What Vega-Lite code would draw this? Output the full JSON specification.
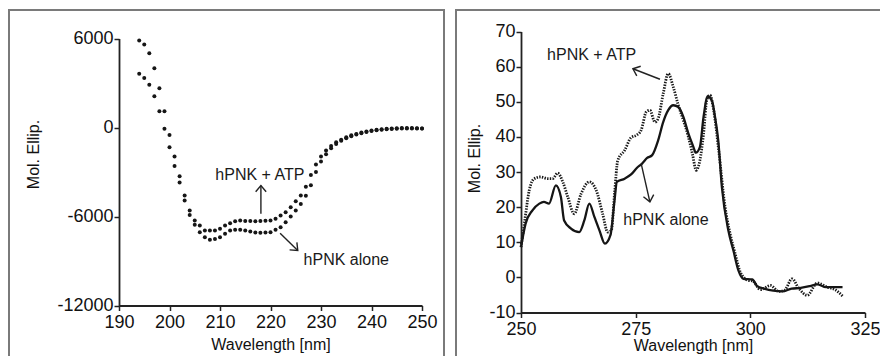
{
  "$schema": "https://vega.github.io/schema/vega-lite/v6.json",
  "background": "white",
  "padding": {"left": 8, "top": 9, "right": 0, "bottom": 0},
  "autosize": {"type": "pad"},
  "bounds": "flush",
  "spacing": 12,
  "config": {
    "view": {"stroke": "#7a7a7a", "strokeWidth": 2},
    "font": "Liberation Sans",
    "axis": {"grid": false, "domainColor": "#222", "domainWidth": 1.8, "tickColor": "#222", "tickWidth": 1.5, "tickSize": 5,
      "labelColor": "#111", "titleColor": "#111", "labelFont": "Liberation Sans", "titleFont": "Liberation Sans",
      "labelFontSize": 18, "titleFontSize": 16, "titleFontWeight": "normal", "labelFlush": false},
    "text": {"font": "Liberation Sans"}
  },
  "datasets": {
    "far": [
      {"s":"hPNK + ATP","nm":194,"v":5870},{"s":"hPNK + ATP","nm":195,"v":5600},{"s":"hPNK + ATP","nm":196,"v":5010},{"s":"hPNK + ATP","nm":197,"v":4000},{"s":"hPNK + ATP","nm":198,"v":2650},{"s":"hPNK + ATP","nm":199,"v":1100},{"s":"hPNK + ATP","nm":200,"v":-500},{"s":"hPNK + ATP","nm":201,"v":-1950},{"s":"hPNK + ATP","nm":202,"v":-3280},{"s":"hPNK + ATP","nm":203,"v":-4580},{"s":"hPNK + ATP","nm":204,"v":-5600},{"s":"hPNK + ATP","nm":205,"v":-6270},{"s":"hPNK + ATP","nm":206,"v":-6600},{"s":"hPNK + ATP","nm":207,"v":-6940},{"s":"hPNK + ATP","nm":208,"v":-6950},{"s":"hPNK + ATP","nm":209,"v":-6940},{"s":"hPNK + ATP","nm":210,"v":-6830},{"s":"hPNK + ATP","nm":211,"v":-6600},{"s":"hPNK + ATP","nm":212,"v":-6450},{"s":"hPNK + ATP","nm":213,"v":-6320},{"s":"hPNK + ATP","nm":214,"v":-6270},{"s":"hPNK + ATP","nm":215,"v":-6300},{"s":"hPNK + ATP","nm":216,"v":-6310},{"s":"hPNK + ATP","nm":217,"v":-6320},{"s":"hPNK + ATP","nm":218,"v":-6310},{"s":"hPNK + ATP","nm":219,"v":-6290},{"s":"hPNK + ATP","nm":220,"v":-6270},{"s":"hPNK + ATP","nm":221,"v":-6160},{"s":"hPNK + ATP","nm":222,"v":-5930},{"s":"hPNK + ATP","nm":223,"v":-5710},{"s":"hPNK + ATP","nm":224,"v":-5370},{"s":"hPNK + ATP","nm":225,"v":-4970},{"s":"hPNK + ATP","nm":226,"v":-4580},{"s":"hPNK + ATP","nm":227,"v":-4000},{"s":"hPNK + ATP","nm":228,"v":-3200},{"s":"hPNK + ATP","nm":229,"v":-2500},{"s":"hPNK + ATP","nm":230,"v":-1950},{"s":"hPNK + ATP","nm":231,"v":-1550},{"s":"hPNK + ATP","nm":232,"v":-1250},{"s":"hPNK + ATP","nm":233,"v":-1000},{"s":"hPNK + ATP","nm":234,"v":-820},{"s":"hPNK + ATP","nm":235,"v":-660},{"s":"hPNK + ATP","nm":236,"v":-530},{"s":"hPNK + ATP","nm":237,"v":-430},{"s":"hPNK + ATP","nm":238,"v":-340},{"s":"hPNK + ATP","nm":239,"v":-270},{"s":"hPNK + ATP","nm":240,"v":-210},{"s":"hPNK + ATP","nm":241,"v":-160},{"s":"hPNK + ATP","nm":242,"v":-120},{"s":"hPNK + ATP","nm":243,"v":-90},{"s":"hPNK + ATP","nm":244,"v":-70},{"s":"hPNK + ATP","nm":245,"v":-50},{"s":"hPNK + ATP","nm":246,"v":-40},{"s":"hPNK + ATP","nm":247,"v":-40},{"s":"hPNK + ATP","nm":248,"v":-40},{"s":"hPNK + ATP","nm":249,"v":-50},{"s":"hPNK + ATP","nm":250,"v":-60},
      {"s":"hPNK alone","nm":194,"v":3620},{"s":"hPNK alone","nm":195,"v":3330},{"s":"hPNK alone","nm":196,"v":2880},{"s":"hPNK alone","nm":197,"v":2110},{"s":"hPNK alone","nm":198,"v":1100},{"s":"hPNK alone","nm":199,"v":-90},{"s":"hPNK alone","nm":200,"v":-1330},{"s":"hPNK alone","nm":201,"v":-2600},{"s":"hPNK alone","nm":202,"v":-3700},{"s":"hPNK alone","nm":203,"v":-4920},{"s":"hPNK alone","nm":204,"v":-5900},{"s":"hPNK alone","nm":205,"v":-6550},{"s":"hPNK alone","nm":206,"v":-7060},{"s":"hPNK alone","nm":207,"v":-7400},{"s":"hPNK alone","nm":208,"v":-7570},{"s":"hPNK alone","nm":209,"v":-7510},{"s":"hPNK alone","nm":210,"v":-7400},{"s":"hPNK alone","nm":211,"v":-7170},{"s":"hPNK alone","nm":212,"v":-6950},{"s":"hPNK alone","nm":213,"v":-6900},{"s":"hPNK alone","nm":214,"v":-6900},{"s":"hPNK alone","nm":215,"v":-6950},{"s":"hPNK alone","nm":216,"v":-7010},{"s":"hPNK alone","nm":217,"v":-7080},{"s":"hPNK alone","nm":218,"v":-7100},{"s":"hPNK alone","nm":219,"v":-7080},{"s":"hPNK alone","nm":220,"v":-7060},{"s":"hPNK alone","nm":221,"v":-6900},{"s":"hPNK alone","nm":222,"v":-6720},{"s":"hPNK alone","nm":223,"v":-6380},{"s":"hPNK alone","nm":224,"v":-6000},{"s":"hPNK alone","nm":225,"v":-5600},{"s":"hPNK alone","nm":226,"v":-5150},{"s":"hPNK alone","nm":227,"v":-4600},{"s":"hPNK alone","nm":228,"v":-3900},{"s":"hPNK alone","nm":229,"v":-3000},{"s":"hPNK alone","nm":230,"v":-2300},{"s":"hPNK alone","nm":231,"v":-1800},{"s":"hPNK alone","nm":232,"v":-1400},{"s":"hPNK alone","nm":233,"v":-1120},{"s":"hPNK alone","nm":234,"v":-900},{"s":"hPNK alone","nm":235,"v":-730},{"s":"hPNK alone","nm":236,"v":-590},{"s":"hPNK alone","nm":237,"v":-470},{"s":"hPNK alone","nm":238,"v":-380},{"s":"hPNK alone","nm":239,"v":-300},{"s":"hPNK alone","nm":240,"v":-240},{"s":"hPNK alone","nm":241,"v":-190},{"s":"hPNK alone","nm":242,"v":-150},{"s":"hPNK alone","nm":243,"v":-120},{"s":"hPNK alone","nm":244,"v":-100},{"s":"hPNK alone","nm":245,"v":-80},{"s":"hPNK alone","nm":246,"v":-70},{"s":"hPNK alone","nm":247,"v":-60},{"s":"hPNK alone","nm":248,"v":-60},{"s":"hPNK alone","nm":249,"v":-60},{"s":"hPNK alone","nm":250,"v":-70}
    ],
    "near": [
      {"s":"hPNK + ATP","nm":250,"v":8.6},{"s":"hPNK + ATP","nm":250.8,"v":16},{"s":"hPNK + ATP","nm":251.8,"v":24.8},{"s":"hPNK + ATP","nm":252.9,"v":28.1},{"s":"hPNK + ATP","nm":254.3,"v":28.6},{"s":"hPNK + ATP","nm":255.8,"v":28.1},{"s":"hPNK + ATP","nm":256.9,"v":28.1},{"s":"hPNK + ATP","nm":258.0,"v":29.7},{"s":"hPNK + ATP","nm":259.1,"v":27.2},{"s":"hPNK + ATP","nm":260.2,"v":22.9},{"s":"hPNK + ATP","nm":261.6,"v":18.1},{"s":"hPNK + ATP","nm":263.1,"v":23.8},{"s":"hPNK + ATP","nm":264.9,"v":27.2},{"s":"hPNK + ATP","nm":266.4,"v":24.8},{"s":"hPNK + ATP","nm":267.8,"v":18.1},{"s":"hPNK + ATP","nm":268.9,"v":12.9},{"s":"hPNK + ATP","nm":269.7,"v":13.4},{"s":"hPNK + ATP","nm":270.4,"v":24},{"s":"hPNK + ATP","nm":271.1,"v":33.3},{"s":"hPNK + ATP","nm":272.6,"v":36.2},{"s":"hPNK + ATP","nm":274.0,"v":39.8},{"s":"hPNK + ATP","nm":275.2,"v":40.5},{"s":"hPNK + ATP","nm":276.2,"v":41.9},{"s":"hPNK + ATP","nm":277.3,"v":47.1},{"s":"hPNK + ATP","nm":278.1,"v":47.6},{"s":"hPNK + ATP","nm":279.2,"v":44.2},{"s":"hPNK + ATP","nm":279.9,"v":45.2},{"s":"hPNK + ATP","nm":281.0,"v":52.3},{"s":"hPNK + ATP","nm":282.1,"v":58},{"s":"hPNK + ATP","nm":283.2,"v":54.2},{"s":"hPNK + ATP","nm":284.3,"v":49},{"s":"hPNK + ATP","nm":285.4,"v":44.7},{"s":"hPNK + ATP","nm":286.5,"v":40},{"s":"hPNK + ATP","nm":287.4,"v":35},{"s":"hPNK + ATP","nm":288.2,"v":30.5},{"s":"hPNK + ATP","nm":289.0,"v":33.3},{"s":"hPNK + ATP","nm":289.8,"v":40.9},{"s":"hPNK + ATP","nm":290.5,"v":50.4},{"s":"hPNK + ATP","nm":291.2,"v":51.9},{"s":"hPNK + ATP","nm":292.0,"v":47.6},{"s":"hPNK + ATP","nm":293.1,"v":36.2},{"s":"hPNK + ATP","nm":294.5,"v":20},{"s":"hPNK + ATP","nm":295.6,"v":12.4},{"s":"hPNK + ATP","nm":296.7,"v":6.7},{"s":"hPNK + ATP","nm":297.8,"v":1.5},{"s":"hPNK + ATP","nm":298.5,"v":0.1},{"s":"hPNK + ATP","nm":299.5,"v":-0.8},{"s":"hPNK + ATP","nm":300.5,"v":-1},{"s":"hPNK + ATP","nm":302.2,"v":-3.5},{"s":"hPNK + ATP","nm":304.4,"v":-2.3},{"s":"hPNK + ATP","nm":306.2,"v":-4},{"s":"hPNK + ATP","nm":307.5,"v":-3.6},{"s":"hPNK + ATP","nm":309.1,"v":-0.4},{"s":"hPNK + ATP","nm":310.5,"v":-3},{"s":"hPNK + ATP","nm":312.4,"v":-5.1},{"s":"hPNK + ATP","nm":314.6,"v":-1.6},{"s":"hPNK + ATP","nm":316.8,"v":-2.8},{"s":"hPNK + ATP","nm":318.5,"v":-3.5},{"s":"hPNK + ATP","nm":320.1,"v":-5.3},
      {"s":"hPNK alone","nm":250,"v":8.6},{"s":"hPNK alone","nm":251,"v":15.3},{"s":"hPNK alone","nm":252.5,"v":19.1},{"s":"hPNK alone","nm":254,"v":21},{"s":"hPNK alone","nm":255,"v":21.5},{"s":"hPNK alone","nm":256.1,"v":21},{"s":"hPNK alone","nm":257.6,"v":26.2},{"s":"hPNK alone","nm":258.7,"v":22.9},{"s":"hPNK alone","nm":259.4,"v":16.2},{"s":"hPNK alone","nm":260.9,"v":13.9},{"s":"hPNK alone","nm":262.7,"v":12.9},{"s":"hPNK alone","nm":263.8,"v":16.2},{"s":"hPNK alone","nm":264.9,"v":21},{"s":"hPNK alone","nm":266,"v":17.2},{"s":"hPNK alone","nm":267.1,"v":13.4},{"s":"hPNK alone","nm":268.3,"v":9.6},{"s":"hPNK alone","nm":269.5,"v":12},{"s":"hPNK alone","nm":270.4,"v":22},{"s":"hPNK alone","nm":270.9,"v":27.2},{"s":"hPNK alone","nm":272.6,"v":28.1},{"s":"hPNK alone","nm":274,"v":29.3},{"s":"hPNK alone","nm":275.3,"v":31.2},{"s":"hPNK alone","nm":276.4,"v":32.4},{"s":"hPNK alone","nm":277.5,"v":34},{"s":"hPNK alone","nm":278.6,"v":34.8},{"s":"hPNK alone","nm":279.9,"v":39},{"s":"hPNK alone","nm":281,"v":44.2},{"s":"hPNK alone","nm":282.1,"v":47.6},{"s":"hPNK alone","nm":283.2,"v":49},{"s":"hPNK alone","nm":284.3,"v":48.5},{"s":"hPNK alone","nm":285.4,"v":45.7},{"s":"hPNK alone","nm":286.5,"v":40.9},{"s":"hPNK alone","nm":287.6,"v":37.1},{"s":"hPNK alone","nm":288.1,"v":35.5},{"s":"hPNK alone","nm":289,"v":37.1},{"s":"hPNK alone","nm":289.8,"v":45.7},{"s":"hPNK alone","nm":290.7,"v":51.5},{"s":"hPNK alone","nm":291.6,"v":50.4},{"s":"hPNK alone","nm":292.3,"v":45.7},{"s":"hPNK alone","nm":293,"v":39},{"s":"hPNK alone","nm":293.8,"v":25.7},{"s":"hPNK alone","nm":295.2,"v":13.4},{"s":"hPNK alone","nm":296.3,"v":7.7},{"s":"hPNK alone","nm":297.4,"v":2},{"s":"hPNK alone","nm":298.5,"v":-0.4},{"s":"hPNK alone","nm":300.4,"v":-0.6},{"s":"hPNK alone","nm":301.5,"v":-2.5},{"s":"hPNK alone","nm":303,"v":-3.2},{"s":"hPNK alone","nm":305,"v":-3.8},{"s":"hPNK alone","nm":307,"v":-4},{"s":"hPNK alone","nm":309,"v":-3.2},{"s":"hPNK alone","nm":311,"v":-3},{"s":"hPNK alone","nm":313,"v":-2.5},{"s":"hPNK alone","nm":314.6,"v":-2},{"s":"hPNK alone","nm":316.5,"v":-2.8},{"s":"hPNK alone","nm":318.5,"v":-2.8},{"s":"hPNK alone","nm":320.1,"v":-2.8}
    ],
    "farNotes": [{"t":"hPNK + ATP","nm":217.9,"v":-3170},{"t":"hPNK alone","nm":235,"v":-8966}],
    "nearNotes": [{"t":"hPNK + ATP","nm":265.4,"v":63.2},{"t":"hPNK alone","nm":281.6,"v":16.2}],
    "farArrows": [{"id":"atp","nm":218.1,"v":-3910,"nm2":218.1,"v2":-5820},{"id":"alone","nm":225.4,"v":-8292,"nm2":221.9,"v2":-7125}],
    "nearArrows": [{"id":"atp","nm":274.4,"v":59.4,"nm2":280.3,"v2":56.4},{"id":"alone","nm":278.1,"v":21.5,"nm2":276.2,"v2":32.4}]
  },
  "hconcat": [
    {
      "width": 435, "height": 352,
      "encoding": {
        "x": {"field": "nm", "type": "quantitative",
          "scale": {"domain": [190, 250], "range": [110, 413], "nice": false, "zero": false},
          "axis": {"title": "Wavelength [nm]", "values": [190, 200, 210, 220, 230, 240, 250], "offset": -56.5, "labelPadding": 3, "titlePadding": 5}},
        "y": {"field": "v", "type": "quantitative",
          "scale": {"domain": [-12000, 6000], "range": [295.5, 28.5], "nice": false, "zero": false},
          "axis": {"title": "Mol. Ellip.", "values": [-12000, -6000, 0, 6000], "offset": -110, "labelPadding": 1, "titlePadding": 15, "titleY": 144, "labelExpr": "'' + datum.value"}}
      },
      "layer": [
        {"data": {"name": "far"}, "mark": {"type": "circle", "size": 16, "color": "#161616", "opacity": 1}},
        {"data": {"name": "farNotes"}, "mark": {"type": "text", "fontSize": 16, "color": "#1a1a1a", "align": "center", "baseline": "middle"}, "encoding": {"text": {"field": "t"}}},
        {"data": {"name": "farArrows"}, "mark": {"type": "rule", "color": "#222", "strokeWidth": 1.4}, "encoding": {"x2": {"field": "nm2"}, "y2": {"field": "v2"}}},
        {"data": {"name": "farArrows"}, "transform": [{"filter": "datum.id === 'atp'"}], "mark": {"type": "point", "shape": "M-1,1.2L0,0L1,1.2", "filled": false, "stroke": "#222", "strokeWidth": 1.4, "size": 110, "angle": 0, "opacity": 1}},
        {"data": {"name": "farArrows"}, "transform": [{"filter": "datum.id === 'alone'"}], "mark": {"type": "point", "shape": "M-1,1.2L0,0L1,1.2", "filled": false, "stroke": "#222", "strokeWidth": 1.4, "size": 110, "angle": 134, "opacity": 1}}
      ]
    },
    {
      "width": 440, "height": 352,
      "encoding": {
        "x": {"field": "nm", "type": "quantitative",
          "scale": {"domain": [250, 325], "range": [65, 409], "nice": false, "zero": false},
          "axis": {"title": "Wavelength [nm]", "values": [250, 275, 300, 325], "offset": -49.5, "labelPadding": 3, "titlePadding": -1}},
        "y": {"field": "v", "type": "quantitative",
          "scale": {"domain": [-10, 70], "range": [302.5, 21.5], "nice": false, "zero": false},
          "axis": {"title": "Mol. Ellip.", "values": [-10, 0, 10, 20, 30, 40, 50, 60, 70], "offset": -65, "labelPadding": 1, "titlePadding": 6, "titleY": 148, "labelExpr": "'' + datum.value"}}
      },
      "layer": [
        {"data": {"name": "near"}, "transform": [{"filter": "datum.s === 'hPNK alone'"}], "mark": {"type": "line", "color": "#151515", "strokeWidth": 2.3, "interpolate": "monotone"}},
        {"data": {"name": "near"}, "transform": [{"filter": "datum.s === 'hPNK + ATP'"}], "mark": {"type": "line", "color": "#1a1a1a", "strokeWidth": 2.8, "strokeDash": [1.4, 1.3], "interpolate": "monotone"}},
        {"data": {"name": "nearNotes"}, "mark": {"type": "text", "fontSize": 16, "color": "#1a1a1a", "align": "center", "baseline": "middle"}, "encoding": {"text": {"field": "t"}}},
        {"data": {"name": "nearArrows"}, "mark": {"type": "rule", "color": "#222", "strokeWidth": 1.4}, "encoding": {"x2": {"field": "nm2"}, "y2": {"field": "v2"}}},
        {"data": {"name": "nearArrows"}, "transform": [{"filter": "datum.id === 'atp'"}], "mark": {"type": "point", "shape": "M-1,1.2L0,0L1,1.2", "filled": false, "stroke": "#222", "strokeWidth": 1.4, "size": 110, "angle": 292, "opacity": 1}},
        {"data": {"name": "nearArrows"}, "transform": [{"filter": "datum.id === 'alone'"}], "mark": {"type": "point", "shape": "M-1,1.2L0,0L1,1.2", "filled": false, "stroke": "#222", "strokeWidth": 1.4, "size": 110, "angle": 168, "opacity": 1}}
      ]
    }
  ]
}
